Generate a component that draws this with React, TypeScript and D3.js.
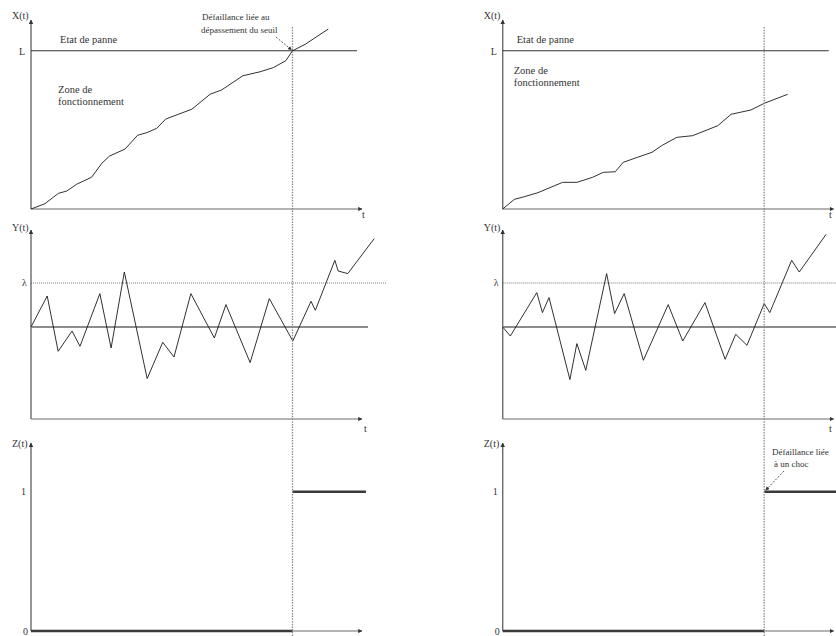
import React from "react";
import * as d3 from "d3";

// ---- Data (time in % of axis length) ----
const FAIL_T = 79;

// Degradation X(t), left scenario (threshold crossing)
const xLeftT = [0, 4.2, 8.3, 10.8, 13.8, 18.3, 21.4, 23.7, 28.4, 32.2, 35, 38, 40.7, 48.6, 54.1, 57.6, 64, 69.2, 73.2, 77, 79, 82.8, 89.8];
const xLeftV = [0, 2.8, 8.3, 9.5, 13.1, 16.8, 24.2, 28, 31.7, 39, 40.4, 42.7, 47.6, 52.8, 60.7, 63, 70.5, 72.6, 74.8, 78.5, 83.7, 87.1, 95.2];
// Degradation X(t), right scenario (shock)
const xRightT = [0, 3.5, 6.5, 10.6, 18.1, 22.4, 27.2, 30.4, 34, 36.4, 40.8, 45.1, 48, 52.6, 57.4, 65, 69, 75, 79, 86.1];
const xRightV = [0, 5.1, 6.5, 8.6, 14.1, 14.1, 16.8, 19.4, 19.7, 24.7, 27.4, 30, 33.5, 37.9, 38.8, 44.1, 50.1, 52.4, 55.9, 60.7];
const L_VALUE = 83.7;

// Covariate Y(t)
const yLeftT = [0, 4.9, 8.2, 12.4, 14.8, 20.8, 24.2, 28.2, 35.1, 39.8, 43.2, 48.3, 55.4, 58.9, 66.2, 72, 79.1, 84.6, 85.9, 91.8, 92.8, 95.7, 103.7];
const yLeftV = [0, 31, -24.3, -4, -19.3, 33.4, -21, 55, -51.6, -15.3, -30, 33.4, -11, 22.4, -35.6, 28.4, -14, 25.7, 16.7, 66.7, 56, 53.4, 88.4];
const yRightT = [0, 2.3, 10.3, 12, 14, 20.3, 22.4, 25.1, 31.4, 33.8, 36.7, 42.5, 50, 54.4, 61.1, 67.2, 70.4, 73.8, 79, 80.7, 87.3, 89.6, 97.7];
const yRightV = [0, -9, 34.4, 14.4, 29.4, -52.6, -16.6, -43.3, 53.4, 13.4, 33.4, -33.3, 22.4, -14, 24.4, -32.3, -7.3, -18.3, 23.4, 14.4, 66.7, 55, 92.7];
const LAMBDA = 44;

// State Z(t): 0 before failure, 1 after (two separate segments)
const zLowT = [0, FAIL_T];
const zLowV = [0, 0];
const zHighT = [FAIL_T, 101.2];
const zHighV = [1, 1];

// Tick labels
const topTickLabels = ["L"];
const midTickLabels = ["λ"];
const botTickLabels = ["0", "1"];

const FONT = "'Liberation Serif', 'DejaVu Serif', serif";
const AXIS_LEN = 331;

const yTop = d3.scaleLinear().domain([0, 100]).range([209, 20]);
const yMid = d3.scaleLinear().domain([-92, 97]).range([419, 230]);
const yBot = d3.scaleLinear().domain([0, 1.35]).range([631, 443]);

type PanelProps = {
  x0: number;
  xT: number[];
  xV: number[];
  yT: number[];
  yV: number[];
  left: boolean;
};

function Panel({ x0, xT, xV, yT, yV, left }: PanelProps) {
  const tx = d3.scaleLinear().domain([0, 100]).range([x0, x0 + AXIS_LEN]);
  const mk = (ts: number[], ys: d3.ScaleLinear<number, number>) =>
    d3.line<number>().x((_, i) => tx(ts[i])).y((d) => ys(d));
  const xf = tx(FAIL_T);
  const lab = x0 - 19;
  const axisStroke = "#6a6a6a";
  const txt = { fontFamily: FONT, fill: "#333" } as const;
  const tLabX = Math.min(x0 + AXIS_LEN, 829);

  const axes = (yS: d3.ScaleLinear<number, number>) => {
    const [b, t] = yS.range();
    return (
      <g>
        <line x1={x0} y1={b} x2={x0} y2={t} stroke={axisStroke} strokeWidth={1.4} markerEnd="url(#arr)" />
        <line x1={x0} y1={b} x2={x0 + AXIS_LEN} y2={b} stroke={axisStroke} strokeWidth={1.2} markerEnd="url(#arr)" />
      </g>
    );
  };

  return (
    <g>
      {/* Top panel: X(t) */}
      {axes(yTop)}
      <line x1={x0} x2={tx(98.5)} y1={yTop(L_VALUE)} y2={yTop(L_VALUE)} stroke="#333" strokeWidth={1.1} />
      <path d={mk(xT, yTop)(xV) || ""} fill="none" stroke="#1a1a1a" strokeWidth={0.9} />
      <text x={lab} y={19} fontSize={10} {...txt}>X(t)</text>
      <text x={x0 - 12} y={55} fontSize={10} {...txt}>{topTickLabels[0]}</text>
      <text x={x0 + (left ? 29 : 14)} y={43} fontSize={10.5} {...txt}>Etat de panne</text>
      <text x={x0 + (left ? 27 : 11)} y={left ? 93 : 74} fontSize={10.5} {...txt}>Zone de</text>
      <text x={x0 + (left ? 27 : 11)} y={left ? 105 : 86} fontSize={10.5} {...txt}>fonctionnement</text>
      <text x={tLabX} y={218} fontSize={10} {...txt}>t</text>

      {/* Middle panel: Y(t) */}
      {axes(yMid)}
      <line x1={x0} x2={tx(101.8)} y1={yMid(0)} y2={yMid(0)} stroke="#8c8c8c" strokeWidth={2} />
      <line x1={x0} x2={tx(107.5)} y1={yMid(LAMBDA)} y2={yMid(LAMBDA)} stroke="#555" strokeWidth={0.8} strokeDasharray="1,1" />
      <path d={mk(yT, yMid)(yV) || ""} fill="none" stroke="#1a1a1a" strokeWidth={0.9} />
      <text x={lab} y={231} fontSize={10} {...txt}>Y(t)</text>
      <text x={x0 - 9} y={286} fontSize={10} {...txt}>{midTickLabels[0]}</text>
      <text x={Math.min(x0 + AXIS_LEN + 2, 829)} y={432} fontSize={10} {...txt}>t</text>

      {/* Bottom panel: Z(t) */}
      {axes(yBot)}
      <path d={mk(zLowT, yBot)(zLowV) || ""} fill="none" stroke="#3a3a3a" strokeWidth={2.4} />
      <path d={mk(zHighT, yBot)(zHighV) || ""} fill="none" stroke="#3a3a3a" strokeWidth={2.4} />
      <text x={lab} y={447} fontSize={10} {...txt}>Z(t)</text>
      <text x={x0 - 10} y={495} fontSize={10} {...txt}>{botTickLabels[1]}</text>
      <text x={x0 - 8} y={635} fontSize={10} {...txt}>{botTickLabels[0]}</text>

      {/* failure time */}
      <line x1={xf} x2={xf} y1={27} y2={636} stroke="#8a8a8a" strokeWidth={1.3} strokeDasharray="1.5,1.2" />

      {left ? (
        <g>
          <text x={202} y={20} fontSize={9} {...txt}>Défaillance liée au</text>
          <text x={201} y={33} fontSize={9} {...txt}>dépassement du seuil</text>
          <line x1={276} y1={37} x2={xf - 1} y2={yTop(L_VALUE) - 1} stroke="#333" strokeWidth={0.8} strokeDasharray="2,1.5" markerEnd="url(#arrs)" />
        </g>
      ) : (
        <g>
          <text x={772} y={455} fontSize={9} {...txt}>Défaillance liée</text>
          <text x={774} y={467} fontSize={9} {...txt}>à un choc</text>
          <line x1={784} y1={471} x2={xf + 1.5} y2={yBot(1) - 1.5} stroke="#333" strokeWidth={0.8} strokeDasharray="2,1.5" markerEnd="url(#arrs)" />
        </g>
      )}
    </g>
  );
}

export default function App() {
  return (
    <svg width={836} height={636} style={{ position: "absolute", left: 0, top: 0, background: "#fff" }}>
      <defs>
        <marker id="arr" viewBox="0 0 10 10" refX="9" refY="5" markerWidth="3.5" markerHeight="3.5" orient="auto" markerUnits="strokeWidth">
          <path d="M0,0 L10,5 L0,10 z" fill="#333" />
        </marker>
        <marker id="arrs" viewBox="0 0 10 10" refX="9" refY="5" markerWidth="5" markerHeight="5" orient="auto" markerUnits="strokeWidth">
          <path d="M0,0 L10,5 L0,10 z" fill="#333" />
        </marker>
      </defs>
      <rect width={836} height={636} fill="#fff" />
      <Panel x0={31} xT={xLeftT} xV={xLeftV} yT={yLeftT} yV={yLeftV} left={true} />
      <Panel x0={502.7} xT={xRightT} xV={xRightV} yT={yRightT} yV={yRightV} left={false} />
    </svg>
  );
}
